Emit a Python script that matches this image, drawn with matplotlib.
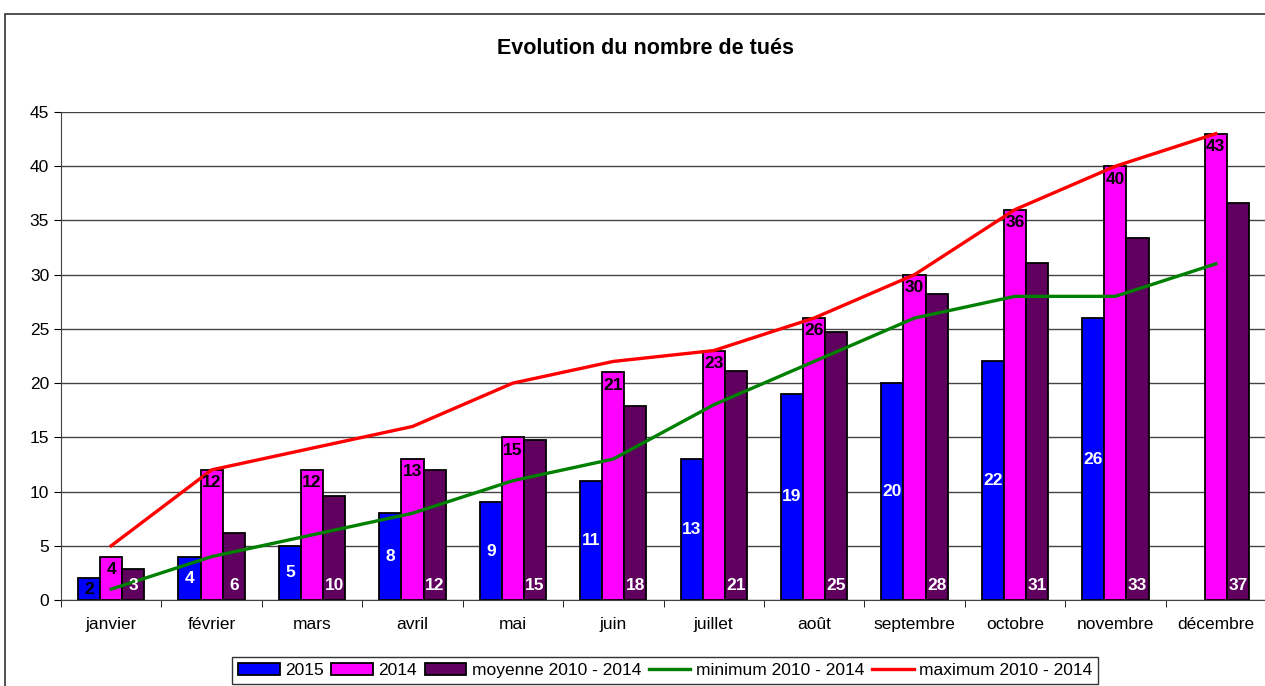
import numpy as np
import matplotlib
matplotlib.use("Agg")
import matplotlib.pyplot as plt
from matplotlib.patches import Rectangle

plt.rcParams["font.family"] = ["Liberation Sans", "DejaVu Sans"]

months = ["janvier", "février", "mars", "avril", "mai", "juin", "juillet",
          "août", "septembre", "octobre", "novembre", "décembre"]
tues_2015 = [2, 4, 5, 8, 9, 11, 13, 19, 20, 22, 26, np.nan]
tues_2014 = [4, 12, 12, 13, 15, 21, 23, 26, 30, 36, 40, 43]
moyenne = [2.9, 6.2, 9.6, 12.0, 14.8, 17.9, 21.1, 24.7, 28.2, 31.1, 33.4, 36.6]
minimum = [1, 4, 6, 8, 11, 13, 18, 22, 26, 28, 28, 31]
maximum = [5, 12, 14, 16, 20, 22, 23, 26, 30, 36, 40, 43]

fig = plt.figure(figsize=(12.65, 6.86), dpi=100)
ax = fig.add_axes([61 / 1265, 1 - 600 / 686, 1205 / 1265, 488 / 686])

# outer chart frame
fig.patches.append(Rectangle((5 / 1265, -0.1), 1.2, 1 - 14 / 686 + 0.1,
                             transform=fig.transFigure, fill=False,
                             edgecolor="#333333", linewidth=1.2))

x = np.arange(len(months))
w = 0.22
b15 = ax.bar(x - w, tues_2015, w, color="#0000FF", edgecolor="black",
             linewidth=1.3, label="2015", zorder=2)
b14 = ax.bar(x, tues_2014, w, color="#FF00FF", edgecolor="black",
             linewidth=1.3, label="2014", zorder=2)
bmo = ax.bar(x + w, moyenne, w, color="#5F005F", edgecolor="black",
             linewidth=1.3, label="moyenne 2010 - 2014", zorder=2)
lmin, = ax.plot(x, minimum, color="#008000", linewidth=2.4,
                label="minimum 2010 - 2014", zorder=3)
lmax, = ax.plot(x, maximum, color="#FF0000", linewidth=2.4,
                label="maximum 2010 - 2014", zorder=3)

lab = dict(fontsize=12.5, fontweight="bold", ha="center", zorder=4)
for xi, v in zip(x, tues_2015):
    if np.isnan(v):
        continue
    ax.text(xi - w, v / 2, f"{v:.0f}", va="center",
            color="white" if v > 2 else "black", **lab)
for xi, v in zip(x, tues_2014):
    ax.text(xi, v - 0.5, f"{v:.0f}", va="top", color="black", **lab)
for xi, v in zip(x, moyenne):
    ax.text(xi + w, 0.6, f"{round(v):.0f}", va="bottom", color="white", **lab)

ax.set_xlim(-0.5, 11.5)
ax.set_ylim(0, 45)
ax.set_yticks(range(0, 46, 5))
ax.set_xticks(x)
ax.set_xticklabels(months)
ax.set_xticks(np.arange(-0.5, 12, 1), minor=True)
ax.tick_params(axis="x", which="major", length=0, labelsize=12.5, pad=12)
ax.tick_params(axis="x", which="minor", length=5, direction="out")
ax.tick_params(axis="y", length=5, direction="out", labelsize=12.5)
ax.grid(axis="y", color="#444444", linewidth=1.0, zorder=0)
ax.set_axisbelow(True)
for s in ["top", "right"]:
    ax.spines[s].set_visible(False)
ax.spines["left"].set_color("#444444")
ax.spines["bottom"].set_color("#444444")

fig.text(645 / 1265, 1 - 48 / 686, "Evolution du nombre de tués",
         ha="center", va="center", fontsize=15.5, fontweight="bold")

leg = fig.legend(handles=[b15, b14, bmo, lmin, lmax],
                 loc="upper center", bbox_to_anchor=(665 / 1265, 1 - 657 / 686),
                 borderaxespad=0, ncol=5, frameon=True, fancybox=False,
                 edgecolor="black", fontsize=12.5, handlelength=2.4,
                 handleheight=0.7, columnspacing=0.45, handletextpad=0.3,
                 borderpad=0.35)
leg.get_frame().set_linewidth(1.0)

fig.savefig("out.png", dpi=100)
